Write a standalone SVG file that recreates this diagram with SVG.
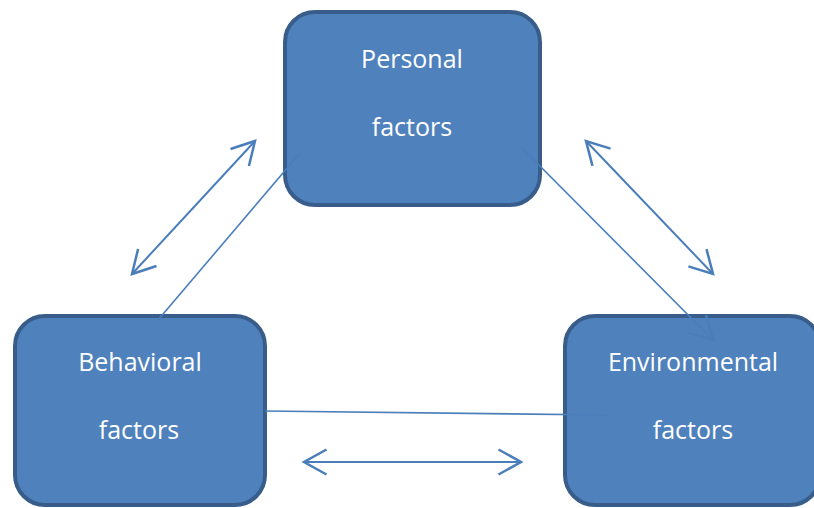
<svg xmlns="http://www.w3.org/2000/svg" width="814" height="508" viewBox="0 0 814 508">
<style>
.box{fill:#4F81BD;stroke:#385D8A;stroke-width:4}
.lbl{font-family:"Open Sans","Liberation Sans",sans-serif;font-size:25px;fill:#FFFFFF;text-anchor:middle}
.arr{stroke:#4A7EBB;stroke-width:2;fill:none}
.con{stroke:#4A7EBB;stroke-width:1.6;fill:none}
</style>
<defs>
<marker id="ah" markerUnits="userSpaceOnUse" markerWidth="30" markerHeight="30" viewBox="-20 -12 24 24" refX="0" refY="0" orient="auto-start-reverse">
<path d="M-18,-10 L0,0 L-18,10" fill="none" stroke="#4A7EBB" stroke-width="2"/>
</marker>
</defs>
<rect width="814" height="508" fill="#FFFFFF"/>
<g id="personal">
<rect class="box" x="285" y="12" width="255" height="193" rx="30"/>
<text class="lbl" x="412" y="68">Personal</text>
<text class="lbl" x="412" y="136">factors</text>
</g>
<g id="behavioral">
<rect class="box" x="15" y="316" width="250" height="189" rx="30"/>
<text class="lbl" x="140" y="371">Behavioral</text>
<text class="lbl" x="139" y="439">factors</text>
</g>
<g id="environmental">
<rect class="box" x="565" y="316" width="255" height="189" rx="30"/>
<text class="lbl" x="693" y="371">Environmental</text>
<text class="lbl" x="693" y="439">factors</text>
</g>
<g id="connectors">
<line class="arr" x1="132" y1="274" x2="255" y2="141" marker-start="url(#ah)" marker-end="url(#ah)"/>
<line class="arr" x1="586" y1="141" x2="713" y2="274" marker-start="url(#ah)" marker-end="url(#ah)"/>
<line class="arr" x1="304" y1="462" x2="521" y2="462" marker-start="url(#ah)" marker-end="url(#ah)"/>
<line class="con" x1="158" y1="320" x2="300" y2="153"/>
<line class="con" x1="522" y1="148" x2="713" y2="340" marker-end="url(#ah)"/>
<line class="con" x1="265" y1="411" x2="608" y2="415"/>
</g>
</svg>
